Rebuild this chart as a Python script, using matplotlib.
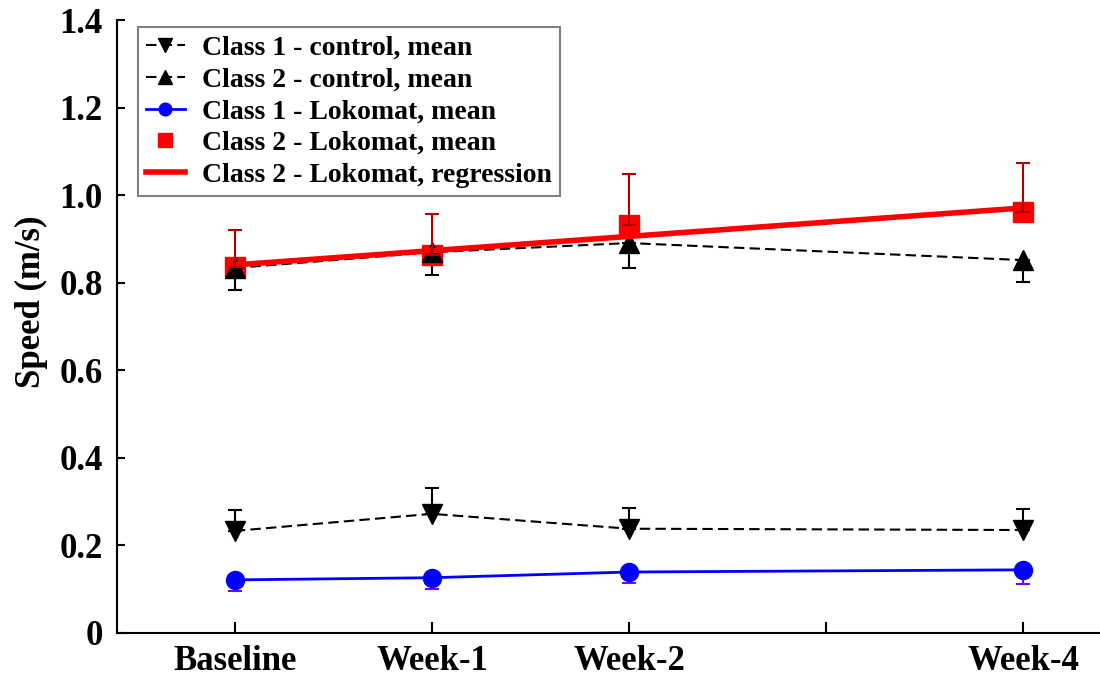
import numpy as np
import matplotlib.pyplot as plt

plt.rcParams['font.family'] = 'Liberation Serif'
plt.rcParams['font.weight'] = 'bold'

weeks = [0, 1, 2, 4]
tick_pos = [0, 1, 2, 3, 4]
tick_labels = ['Baseline', 'Week-1', 'Week-2', '', 'Week-4']

# mean speed (m/s) and one-sided std bars
c1_ctrl = [0.233, 0.272, 0.238, 0.235]
c1_ctrl_err = [0.048, 0.059, 0.047, 0.048]
c2_ctrl = [0.834, 0.870, 0.891, 0.852]
c2_ctrl_err = [0.051, 0.052, 0.057, 0.050]
c1_loko = [0.121, 0.126, 0.139, 0.144]
c1_loko_err = [0.025, 0.026, 0.025, 0.032]
c2_loko = [0.836, 0.863, 0.932, 0.961]
c2_loko_err = [0.084, 0.094, 0.116, 0.112]

fig = plt.figure(figsize=(11, 6.79), dpi=100)
ax = fig.add_axes([0.106, 0.068, 0.894, 0.902])

z = np.zeros(4)
ax.errorbar(weeks, c1_ctrl, yerr=[z, c1_ctrl_err], fmt='none', ecolor='black',
            elinewidth=1.5, capsize=5, capthick=1.5, zorder=2)
ax.errorbar(weeks, c2_ctrl, yerr=[c2_ctrl_err, z], fmt='none', ecolor='black',
            elinewidth=1.5, capsize=5, capthick=1.5, zorder=2)
ax.errorbar(weeks, c1_loko, yerr=[c1_loko_err, z], fmt='none', ecolor='#7a00ff',
            elinewidth=1.5, capsize=5, capthick=1.5, zorder=2)
ax.errorbar(weeks, c2_loko, yerr=[z, c2_loko_err], fmt='none', ecolor='#b00000',
            elinewidth=1.5, capsize=5, capthick=1.5, zorder=4)

l1, = ax.plot(weeks, c1_ctrl, 'k--', marker='v', markersize=14, lw=1.5, dashes=(5, 2.5),
              label='Class 1 - control, mean', zorder=3)
l2, = ax.plot(weeks, c2_ctrl, 'k--', marker='^', markersize=14, lw=1.5, dashes=(5, 2.5),
              label='Class 2 - control, mean', zorder=3)
l3, = ax.plot(weeks, c1_loko, color='blue', marker='o', markersize=13, lw=2,
              label='Class 1 - Lokomat, mean', zorder=3)
l4, = ax.plot(weeks, c2_loko, 's', color='red', markersize=14,
              label='Class 2 - Lokomat, mean', zorder=2)

# linear regression of class 2 Lokomat means
slope, icpt = np.polyfit(weeks, c2_loko, 1)
xr = np.array([weeks[0], weeks[-1]])
l5, = ax.plot(xr, icpt + slope * xr, color='red', lw=4,
              label='Class 2 - Lokomat, regression', zorder=3)

ax.set_xlim(-0.6, 4.39)
ax.set_ylim(0, 1.4)
ax.set_xticks(tick_pos)
ax.set_xticklabels(tick_labels)
ax.set_yticks(np.arange(0, 1.41, 0.2))
ax.set_yticklabels(['0', '0.2', '0.4', '0.6', '0.8', '1.0', '1.2', '1.4'])
ax.tick_params(direction='in', labelsize=25, width=1.5, length=8)
ax.tick_params(axis='y', length=6, pad=10)
ax.tick_params(axis='x', pad=9)
for s in ['top', 'right']:
    ax.spines[s].set_visible(False)
for s in ['left', 'bottom']:
    ax.spines[s].set_linewidth(1.5)
ax.set_ylabel('Speed (m/s)', fontsize=25, fontweight='bold')
ax.yaxis.set_label_coords(-0.07, 0.54)

leg = ax.legend(handles=[l1, l2, l3, l4, l5], loc='upper left',
                bbox_to_anchor=(0.013, 1.003), fontsize=20, fancybox=False,
                edgecolor='gray', framealpha=1, handlelength=1.4,
                labelspacing=0.23, borderpad=0.3, handletextpad=0.6,
                markerscale=0.7, borderaxespad=0.3)
leg.get_frame().set_linewidth(1.5)

fig.savefig('out.png', dpi=100)
